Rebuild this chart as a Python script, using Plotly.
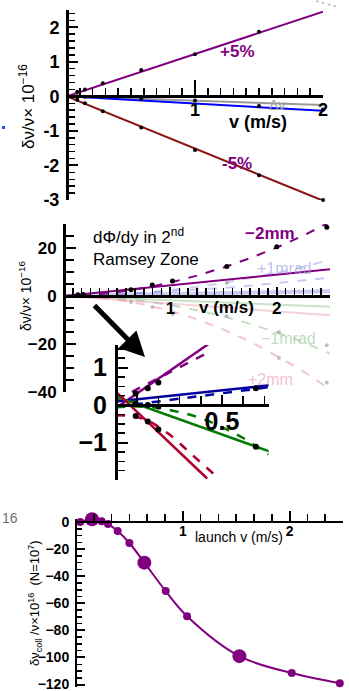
import plotly.graph_objects as go

W, H = 349, 691
FONT = "Liberation Sans, Arial, Helvetica, sans-serif"

# ---------------- Panel 1 : +/-5% ----------------
v1_pts = [0.08, 0.14, 0.28, 0.58, 1.0, 1.5, 2.0]
plus5_pts = [0.13, 0.2, 0.38, 0.76, 1.22, 1.87, 2.58]
minus5_pts = [-0.1, -0.2, -0.43, -0.9, -1.55, -2.28, -3.0]
dv_pts = [0.0, -0.01, -0.02, -0.07, -0.12, -0.28, -0.38]
v1_fit = [0.0, 2.0]
plus5_fit = [0.0, 2.45]
minus5_fit = [0.0, -3.02]
blue_fit = [0.0, -0.42]
gray_fit = [0.0, -0.25]
p1_yticks = [-3, -2, -1, 0, 1, 2]
p1_yticklabels = ["-3", "-2", "-1", "0", "1", "2"]
p1_xticks = [1, 2]
p1_xticklabels = ["1", "2"]

# ---------------- Panel 2 : dPhi/dy ----------------
v2 = [0, 0.25, 0.5, 0.75, 1.0, 1.25, 1.5, 1.75, 2.0, 2.25, 2.5]
m2mm_dash = [0, 0.4, 1.6, 3.3, 5.6, 8.5, 11.9, 15.8, 20.2, 25.2, 30.8]
m2mm_solid = [0, 1.1, 2.2, 3.3, 4.4, 5.5, 6.7, 7.8, 8.9, 10.0, 11.1]
p1mrad_dash = [0, 0.3, 0.8, 1.3, 1.9, 2.6, 3.4, 4.3, 5.3, 6.4, 7.6]
p1mrad_quad = [0, 0.15, 0.6, 1.35, 2.4, 3.75, 5.4, 7.35, 9.6, 12.15, 15.0]
p1mrad_solid = [0, 0.2, 0.4, 0.6, 0.8, 1.0, 1.2, 1.4, 1.6, 1.8, 2.0]
m1mrad_solid = [0, -0.45, -0.9, -1.35, -1.8, -2.25, -2.7, -3.15, -3.6, -4.05, -4.5]
m1mrad_dash = [0, -0.24, -0.95, -2.1, -3.8, -5.9, -8.5, -11.6, -15.2, -19.2, -24.0]
p2mm_solid = [0, -0.8, -1.6, -2.4, -3.2, -4.0, -4.8, -5.6, -6.4, -7.2, -8.0]
p2mm_dash = [0, -0.4, -1.55, -3.5, -6.2, -9.7, -14.0, -19.0, -25.0, -31.4, -38.8]
v2_pts = [0.13, 0.18, 0.63, 0.83, 1.02, 1.53, 2.0, 2.47]
m2mm_pts = [0.5, 0.6, 2.6, 4.6, 6.2, 12.3, 20.5, 28.6]
v2_gray = [0.63, 0.83, 1.02, 1.53, 1.53, 2.02, 2.47, 2.02, 2.47]
gray_pts = [-2.5, -4.6, -7.5, 5.4, -8.3, -15.0, -20.5, -25.8, -36.0]
p2_yticks = [-40, -20, 0, 20]
p2_yticklabels = ["\u221240", "\u221220", "0", "20"]
p2_xticks = [1, 2]
p2_xticklabels = ["1", "2"]

# ---------------- Panel 3 : inset ----------------
v3_ps = [0.0, 0.45]
pur_solid3 = [-0.08, 1.68]
v3_pd = [0.0, 0.445]
pur_dash3 = [0.13, 1.43]
v3_b = [0.0, 0.73]
blue_solid3 = [0.09, 0.53]
blue_dash3 = [-0.05, 0.48]
green_solid3 = [0.22, -1.25]
v3_gd = [0, 0.1, 0.2, 0.3, 0.4, 0.5, 0.6, 0.72]
green_dash3 = [-0.06, -0.04, -0.08, -0.19, -0.35, -0.59, -0.88, -1.32]
v3_rs = [0.0, 0.43]
red_solid3 = [0.35, -1.96]
v3_rd = [0, 0.08, 0.15, 0.246, 0.36, 0.475]
red_dash3 = [-0.27, -0.3, -0.42, -0.76, -1.33, -1.91]
v3_pts = [0.093, 0.15, 0.2, 0.093, 0.15, 0.2, 0.093, 0.15, 0.2, 0.66, 0.66]
y3_pts = [0.31, 0.45, 0.6, -0.29, -0.44, -0.65, 0.04, 0.0, -0.04, 0.45, -1.11]
p3_yticks = [-1, 0, 1]
p3_yticklabels = ["\u22121", "0", "1"]
p3_xticks = [0.5]
p3_xticklabels = ["0.5"]

# ---------------- Panel 4 : collisions ----------------
v4 = [0.04, 0.15, 0.24, 0.3, 0.39, 0.5, 0.64, 0.84, 1.04, 1.53, 2.02, 2.47]
coll = [0.0, 2.0, 0.5, -1.5, -6.6, -15.5, -30.0, -51.0, -69.5, -99.0, -111.5, -119.0]
big_idx = [1, 6, 9]
p4_yticks = [-120, -100, -80, -60, -40, -20, 0]
p4_yticklabels = ["\u2212120", "\u2212100", "\u221280", "\u221260", "\u221240", "\u221220", "0"]
p4_xticks = [1, 2]
p4_xticklabels = ["1", "2"]

PURPLE = "#800080"
DARKRED = "#8B1414"


def px(p):
    return p / W


def py(p):
    return 1 - p / H


fig = go.Figure()


def line(x, y, ax, color, width=2, dash="solid", opacity=1.0, shape="linear"):
    fig.add_trace(go.Scatter(x=x, y=y, xaxis="x" + ax, yaxis="y" + ax, mode="lines",
                             line=dict(color=color, width=width, dash=dash, shape=shape),
                             opacity=opacity, showlegend=False, hoverinfo="skip"))


def dots(x, y, ax, color="black", size=4, opacity=1.0):
    fig.add_trace(go.Scatter(x=x, y=y, xaxis="x" + ax, yaxis="y" + ax, mode="markers",
                             marker=dict(color=color, size=size, line=dict(width=0)),
                             opacity=opacity, cliponaxis=False, showlegend=False,
                             hoverinfo="skip"))


# panel 1
line(v1_fit, gray_fit, "", "#9a9a9a", 2)
line(v1_fit, blue_fit, "", "#0000FF", 2)
line(v1_fit, plus5_fit, "", PURPLE, 2)
line(v1_fit, minus5_fit, "", DARKRED, 2)
dots(v1_pts, plus5_pts, "")
dots(v1_pts, minus5_pts, "")
dots(v1_pts, dv_pts, "")

# panel 2 (faint curves first)
line(v2, p1mrad_solid, "2", "rgba(140,140,225,0.45)", 4)
line(v2, p1mrad_dash, "2", "rgba(140,140,225,0.45)", 2, "dash")
line(v2, p1mrad_quad, "2", "rgba(60,60,200,0.25)", 2, "dash")
line(v2, m1mrad_solid, "2", "rgba(120,185,120,0.4)", 2)
line(v2, m1mrad_dash, "2", "rgba(120,185,120,0.45)", 2, "dash")
line(v2, p2mm_solid, "2", "rgba(230,140,160,0.4)", 2)
line(v2, p2mm_dash, "2", "rgba(230,140,160,0.5)", 2, "dash")
dots(v2_gray, gray_pts, "2", "rgba(150,150,150,0.6)", 4)
line(v2, m2mm_solid, "2", PURPLE, 2)
line(v2, m2mm_dash, "2", PURPLE, 2, "dash")
dots(v2_pts, m2mm_pts, "2", "black", 5)

# panel 3 inset
line(v3_ps, pur_solid3, "3", PURPLE, 2.5)
line(v3_pd, pur_dash3, "3", PURPLE, 2.5, "dash")
line(v3_b, blue_solid3, "3", "#0000A0", 2.5)
line(v3_b, blue_dash3, "3", "#0000A0", 2.5, "dash")
line(v3_b, green_solid3, "3", "#007A00", 2.5)
line(v3_gd, green_dash3, "3", "#007A00", 2.5, "dash", shape="spline")
line(v3_rs, red_solid3, "3", "#B00030", 2.5)
line(v3_rd, red_dash3, "3", "#B00030", 2.5, "dash", shape="spline")
dots(v3_pts, y3_pts, "3", "black", 6)

# panel 4
line(v4, coll, "4", PURPLE, 2, shape="spline")
dots(v4, coll, "4", PURPLE, 8)
dots([v4[i] for i in big_idx], [coll[i] for i in big_idx], "4", PURPLE, 14)


def xax(x0, x1, rng, ypos, tickvals, ticktext, size, minor_dtick, ticklen=8, mlen=6,
        lw=2.5, standoff=-4):
    return dict(domain=[px(x0), px(x1)], range=rng, anchor="free", position=py(ypos),
                side="bottom", showline=True, linecolor="black", linewidth=lw,
                ticks="inside", ticklen=ticklen, tickwidth=2, tickcolor="black",
                tickmode="array", tickvals=tickvals, ticktext=ticktext,
                tickfont=dict(family=FONT, size=size, color="black", weight="bold"),
                ticklabelstandoff=standoff, automargin=False, ticklabeloverflow="allow",
                minor=dict(tickmode="linear", tick0=0, dtick=minor_dtick, ticks="inside",
                           ticklen=mlen, tickwidth=1.5, tickcolor="black"),
                showgrid=False, zeroline=False, fixedrange=True)


def yax(y0, y1, rng, xpos, tickvals, ticktext, size, minor_dtick, ticklen=9, mlen=6,
        lw=2.5, standoff=3):
    return dict(domain=[py(y1), py(y0)], range=rng, anchor="free", position=px(xpos),
                side="left", showline=True, linecolor="black", linewidth=lw,
                ticks="inside", ticklen=ticklen, tickwidth=2, tickcolor="black",
                tickmode="array", tickvals=tickvals, ticktext=ticktext,
                tickfont=dict(family=FONT, size=size, color="black", weight="bold"),
                ticklabelstandoff=standoff, automargin=False, ticklabeloverflow="allow",
                minor=dict(tickmode="linear", tick0=0, dtick=minor_dtick, ticks="inside",
                           ticklen=mlen, tickwidth=1.5, tickcolor="black"),
                showgrid=False, zeroline=False, fixedrange=True)


layout = dict(
    template="none",
    width=W, height=H, margin=dict(l=0, r=0, t=0, b=0, pad=0), autosize=False,
    paper_bgcolor="white", plot_bgcolor="rgba(0,0,0,0)", showlegend=False,
    xaxis=xax(67, 323, [0, 2], 96.4, p1_xticks, p1_xticklabels, 18, 0.1,
              ticklen=15, mlen=7),
    yaxis=yax(10, 200, [-3.0, 2.5], 67, p1_yticks, p1_yticklabels, 18, 0.2),
    xaxis2=xax(64, 330, [0, 2.5], 296, p2_xticks, p2_xticklabels, 17, 1 / 12, ticklen=8,
               mlen=7),
    yaxis2=yax(224, 392, [-40, 30], 64, p2_yticks, p2_yticklabels, 17, 5, ticklen=10, mlen=8),
    xaxis3=xax(116, 268.6, [0, 0.72], 405, p3_xticks, p3_xticklabels, 25, 0.1, ticklen=9,
               mlen=8, lw=3, standoff=-7),
    yaxis3=yax(345, 480, [-2.0, 1.6], 116, p3_yticks, p3_yticklabels, 25, 0.25,
               ticklen=10, mlen=7, lw=3),
    xaxis4=xax(76, 343, [0, 2.5], 522, p4_xticks, p4_xticklabels, 14, 1 / 6, ticklen=10,
               mlen=7, lw=2),
    yaxis4=yax(519.3, 687.3, [-122, 2], 76, p4_yticks, p4_yticklabels, 14, 5, ticklen=8,
               mlen=5, lw=2),
)


def ann(text, x, y, size, color="black", angle=0, xanchor="center", align="center",
        weight="normal"):
    return dict(text=text, x=px(x), y=py(y), xref="paper", yref="paper", showarrow=False,
                font=dict(family=FONT, size=size, color=color, weight=weight),
                textangle=angle, xanchor=xanchor, yanchor="middle", align=align)


annotations = [
    ann("+5%", 237, 52, 17, PURPLE, weight="bold"),
    ann("-5%", 237, 163, 17, PURPLE, weight="bold"),
    ann("\u0394v", 277, 105, 14, "#a0a0a0"),
    ann("v (m/s)", 258, 122, 18, weight="bold"),
    ann("\u03b4\u03bd/\u03bd\u00d7 10<sup>\u221216</sup>", 27, 107, 17, angle=-90),
    ann("d\u03a6/dy in 2<sup>nd</sup><br>Ramsey Zone", 91, 247, 17, xanchor="left",
        align="left"),
    ann("\u22122mm", 270, 233, 17, PURPLE, weight="bold"),
    ann("+1mrad", 284, 269, 16, "rgba(150,150,225,0.6)"),
    ann("\u22121mrad", 288, 338, 16, "rgba(130,190,130,0.55)"),
    ann("+2mm", 270, 379, 16, "rgba(235,150,170,0.6)"),
    ann("v (m/s)", 226, 307, 17, weight="bold"),
    ann("\u03b4\u03bd/\u03bd\u00d7 10<sup>\u221216</sup>", 25, 296, 14, angle=-90),
    ann("launch v (m/s)", 239, 537, 14),
    ann("\u03b4\u03bd<sub>coll</sub> /\u03bd\u00d710<sup>16</sup>  (N=10<sup>7</sup>)", 35, 603,
        13, angle=-90),
    ann("16", 10, 518, 14, "#707070"),
    dict(x=px(145), y=py(357), xref="paper", yref="paper", ax=-52, ay=-53, showarrow=True,
         arrowhead=2, arrowsize=1, arrowwidth=5, arrowcolor="black", text=""),
]
layout["annotations"] = annotations
layout["shapes"] = [
    dict(type="rect", xref="paper", yref="paper", x0=px(2), x1=px(5), y0=py(129), y1=py(126),
         fillcolor="#2050ff", line=dict(width=0)),
    dict(type="line", xref="paper", yref="paper", x0=px(316), y0=py(1), x1=px(338),
         y1=py(7), line=dict(color="rgba(150,150,150,0.5)", width=2, dash="dot")),
]

fig.update_layout(**layout)
fig.write_html(
    "out.html",
    config={"displayModeBar": False, "staticPlot": True},
    post_script="document.body.style.margin='0px';document.body.style.padding='0px';"
                "document.documentElement.style.overflow='hidden';",
)
